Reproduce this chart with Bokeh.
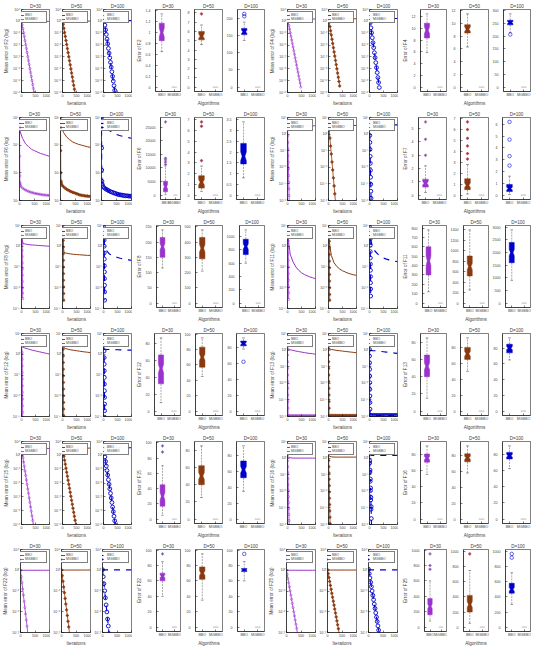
from bokeh.plotting import figure
from bokeh.layouts import row, column
from bokeh.models import Range1d, FixedTicker, CustomJSTickFormatter, Label
from bokeh.embed import file_html
from bokeh.resources import INLINE

FONT = "Liberation Sans"
DIMS = [30, 50, 100]
ALGS = ["BBO", "MGBBO"]
LEFT_FUNCS = ["F2", "F6", "F8", "F12", "F15", "F22"]
RIGHT_FUNCS = ["F4", "F7", "F11", "F13", "F16", "F25"]
X_TICKS = [0, 500, 1000]
COLORS = {30: "#9A32CD", 50: "#8B3A0F", 100: "#0000CD"}

# iteration grids (x values) of the recorded points
ITER_B = [0, 10, 25, 50, 100, 200, 300, 400, 500, 600, 700, 800, 900, 1000]
ITER_M25 = [0, 25, 50, 75, 100, 125, 150, 175, 200, 225, 250, 275, 300, 325, 350, 375, 400, 425, 450, 475, 500]
ITER_M5 = [0, 5, 10, 15, 20, 25, 30, 35, 40, 45, 50, 55, 60, 65, 70]
ITER_M2 = [0, 22, 24, 26, 28, 30, 32, 34, 36, 38, 40, 42, 44]
ITER_MS = [0, 5, 10, 15, 20, 30, 50, 100, 150, 200, 250, 300, 350, 400, 450, 500, 550, 600, 650, 700, 750, 800, 850, 900, 950, 1000]
ITER_MF = [0, 2, 4, 6, 8, 10, 12, 14, 16, 18, 20, 50, 100, 150, 200, 250, 300, 350, 400, 450, 500, 550, 600, 650, 700, 750, 800, 850, 900, 950, 1000]

# ---- convergence data: log10 of mean error, per D = 30, 50, 100 ----
F2_LIM = (-60, 10); F2_TICKS = [10, 0, -10, -20, -30, -40, -50, -60]
F2_BBO = [[1.0, 0.6, 0.4, 0.3, 0.2, 0.1, 0.1, 0.0, 0.0, 0.0, 0.0, 0.0, 0.0, 0.0],
          [1.2, 0.8, 0.6, 0.5, 0.4, 0.3, 0.3, 0.2, 0.2, 0.2, 0.2, 0.2, 0.2, 0.2],
          [2.0, 1.5, 1.2, 1.0, 0.9, 0.8, 0.8, 0.7, 0.7, 0.7, 0.7, 0.7, 0.7, 0.7]]
F2_MG = [[0.5, -2.8, -6.1, -9.5, -12.8, -16.2, -19.6, -22.9, -26.3, -29.7, -33.0, -36.4, -39.8, -43.1, -46.5, -49.9, -53.2, -56.6, -60.0],
         [1.0, -2.4, -5.8, -9.3, -12.7, -16.1, -19.5, -23.0, -26.4, -29.8, -33.2, -36.7, -40.1, -43.5, -46.9, -50.4, -53.8, -57.2, -60.6],
         [5.0, 0.8, -3.2, -7.1, -11.0, -15.0, -18.9, -22.8, -26.8, -30.7, -34.6, -38.6, -42.5, -46.4, -50.4, -54.3, -58.2, -62.0]]
F2_GRID = [ITER_M25, ITER_M25, ITER_M25]

F4_LIM = (-60, 10); F4_TICKS = [10, 0, -10, -20, -30, -40, -50, -60]
F4_BBO = [[2.6, 2.3, 2.2, 2.1, 2.0, 2.0, 2.0, 2.0, 2.0, 2.0, 2.0, 2.0, 2.0, 2.0],
          [2.8, 2.5, 2.4, 2.3, 2.2, 2.2, 2.2, 2.2, 2.2, 2.2, 2.2, 2.2, 2.2, 2.2],
          [3.0, 2.7, 2.6, 2.5, 2.4, 2.4, 2.4, 2.4, 2.4, 2.4, 2.4, 2.4, 2.4, 2.4]]
F4_MG = [[2.6, -0.5, -3.5, -6.5, -9.6, -12.6, -15.6, -18.7, -21.7, -24.7, -27.8, -30.8, -33.8, -36.9, -39.9, -42.9, -46.0, -49.0, -52.0, -55.5],
         [2.8, -0.8, -4.4, -7.9, -11.5, -15.1, -18.6, -22.2, -25.8, -29.3, -32.9, -36.5, -40.0, -43.6, -47.2, -50.7, -54.5],
         [3.0, -1.2, -5.4, -9.6, -13.8, -18.0, -22.2, -26.4, -30.6, -34.8, -39.0, -43.2, -47.4, -51.6, -55.8]]
F4_GRID = [ITER_M25, ITER_M25, ITER_M25]

F6_LIM = (2, 5); F6_TICKS = [2, 3, 4, 5]
F6_BBO = [[5.0, 4.7, 4.5, 4.4, 4.25, 4.05, 3.95, 3.85, 3.8, 3.75, 3.7, 3.67, 3.63, 3.6],
          [5.0, 4.85, 4.7, 4.6, 4.46, 4.3, 4.2, 4.12, 4.07, 4.03, 4.0, 3.97, 3.94, 3.92],
          [5.0, 4.95, 4.9, 4.85, 4.7, 4.58, 4.5, 4.44, 4.39, 4.35, 4.32, 4.29, 4.27, 4.25]]
F6_MG = [[5.0, 3.6, 2.9, 2.65, 2.6, 2.55, 2.5, 2.45, 2.41, 2.38, 2.35, 2.33, 2.31, 2.29, 2.28, 2.26, 2.25, 2.24, 2.23, 2.22, 2.21, 2.2, 2.2, 2.19, 2.19, 2.18],
         [5.0, 3.8, 3.0, 2.7, 2.66, 2.6, 2.55, 2.5, 2.45, 2.41, 2.38, 2.35, 2.32, 2.3, 2.28, 2.26, 2.24, 2.22, 2.2, 2.19, 2.18, 2.17, 2.16, 2.16, 2.15, 2.15],
         [5.0, 3.9, 3.1, 2.7, 2.6, 2.55, 2.5, 2.45, 2.41, 2.38, 2.35, 2.32, 2.3, 2.28, 2.26, 2.24, 2.22, 2.21, 2.2, 2.19, 2.18, 2.17, 2.17, 2.16, 2.16, 2.15]]
F6_GRID = [ITER_MS, ITER_MS, ITER_MS]

F7_LIM = (-20, 5); F7_TICKS = [5, 0, -5, -10, -15, -20]
F7_BBO = [[3.5, 3.0, 2.8, 2.7, 2.6, 2.5, 2.5, 2.5, 2.5, 2.5, 2.5, 2.5, 2.5, 2.5],
          [3.6, 3.1, 2.9, 2.8, 2.7, 2.6, 2.6, 2.6, 2.6, 2.6, 2.6, 2.6, 2.6, 2.6],
          [3.8, 3.3, 3.1, 3.0, 2.9, 2.8, 2.8, 2.8, 2.8, 2.8, 2.8, 2.8, 2.8, 2.8]]
F7_MG = [[3.5, 1.5, -0.5, -2.5, -4.5, -6.5, -8.5, -10.5, -12.5, -14.5, -16.5, -18.5, -20.5],
         [3.6, 1.2, -1.2, -3.6, -6.0, -8.4, -10.8, -13.2, -15.6, -18.0, -20.4],
         [3.8, 1.7, -0.4, -2.5, -4.6, -6.7, -8.8, -10.9, -13.0, -15.1, -17.2, -19.3, -21.4]]
F7_GRID = [ITER_M5, ITER_M25, ITER_M5]

F8_LIM = (-15, 5); F8_TICKS = [5, 0, -5, -10, -15]
F8_BBO = [[3.4, 2.5, 1.6, 0.8, 0.6, 0.45, 0.35, 0.3, 0.25, 0.2, 0.15, 0.1, 0.05, 0.0],
          [4.6, 2.5, 0.5, -1.4, -1.6, -1.75, -1.85, -1.95, -2.0, -2.05, -2.1, -2.15, -2.2, -2.2],
          [4.6, 2.5, 0.8, -0.2, -1.0, -1.8, -2.2, -2.5, -2.7, -2.9, -3.05, -3.2, -3.3, -3.4]]
F8_MG = [[3.4, 2.0, 0.5, -1.0, -2.5, -4.0, -5.5, -7.0, -8.5, -10.0, -11.3, -12.6],
         [4.6, 3.0, 1.4, -0.2, -1.8, -3.4, -5.0, -6.6, -8.2, -9.8, -11.4, -13.0],
         [4.6, 3.1, 1.5, 0.0, -1.6, -3.1, -4.7, -6.2, -7.8, -9.4, -11.0, -13.0]]
F8_GRID = [ITER_M2, ITER_M2, ITER_M2]

F11_LIM = (-15, 5); F11_TICKS = [5, 0, -5, -10, -15]
F11_BBO = [[4.6, 3.5, 2.2, 0.5, -2.0, -3.8, -5.0, -5.8, -6.4, -6.8, -7.1, -7.4, -7.6, -7.8],
           [4.4, 3.0, 1.6, 0.0, -2.2, -4.0, -4.9, -5.5, -5.9, -6.2, -6.5, -6.7, -6.9, -7.0],
           [4.6, 3.8, 2.8, 1.4, 0.0, -1.2, -1.9, -2.4, -2.8, -3.1, -3.3, -3.5, -3.6, -3.7]]
F11_MG = [[4.6, 3.0, 1.4, -0.2, -1.8, -3.4, -5.0, -6.6, -8.2, -9.8, -11.2, -12.8],
          [4.4, 2.8, 1.2, -0.4, -2.0, -3.6, -5.2, -6.8, -8.4, -10.0, -11.6, -13.0],
          [4.6, 3.2, 1.7, 0.2, -1.3, -2.8, -4.3, -5.8, -7.3, -8.8, -10.3, -12.0]]
F11_GRID = [ITER_M2, ITER_M2, ITER_M2]

F12_LIM = (-15, 5); F12_TICKS = [5, 0, -5, -10, -15]
F12_BBO = [[2.0, 1.9, 1.8, 1.7, 1.55, 1.35, 1.15, 0.95, 0.8, 0.65, 0.5, 0.35, 0.2, 0.05],
           [2.8, 2.2, 1.9, 1.6, 1.4, 1.2, 1.05, 0.95, 0.85, 0.75, 0.65, 0.55, 0.48, 0.4],
           [1.3, 1.25, 1.22, 1.2, 1.18, 1.15, 1.12, 1.1, 1.08, 1.06, 1.04, 1.02, 1.01, 1.0]]
F12_MG = [[2.0, 0.4, -1.2, -2.8, -4.4, -6.0, -7.6, -9.2, -10.8, -12.4, -14.0, -15.6],
          [2.8, 1.2, -0.4, -2.0, -3.6, -5.2, -6.8, -8.4, -10.0, -11.6, -13.2, -14.8, -16.4],
          [2.4, 0.8, -0.8, -2.4, -4.0, -5.6, -7.2, -8.8, -10.4, -12.0, -13.6, -15.2]]
F12_GRID = [ITER_M2, ITER_M2, ITER_M2]

F13_LIM = (-20, 5); F13_TICKS = [5, 0, -5, -10, -15, -20]
F13_BBO = [[0.3, 0.3, 0.25, 0.2, 0.1, -0.1, -0.3, -0.45, -0.6, -0.75, -0.9, -1.0, -1.1, -1.25],
           [0.3, 0.5, 0.4, 0.3, 0.2, 0.05, -0.1, -0.2, -0.3, -0.4, -0.5, -0.6, -0.7, -0.8],
           [0.0, 0.0, -0.05, -0.1, -0.15, -0.2, -0.3, -0.4, -0.5, -0.6, -0.7, -0.8, -0.9, -1.0]]
F13_MG = [[0.5, -1.5, -3.5, -5.5, -7.5, -9.5, -11.5, -13.5, -15.5, -17.5, -19.7, -19.7, -19.7, -19.7, -19.7, -19.7, -19.7, -19.7, -19.7, -19.7, -19.7, -19.7, -19.7, -19.7, -19.7, -19.7, -19.7, -19.7, -19.7, -19.7, -19.7],
          [0.5, -1.5, -3.5, -5.5, -7.5, -9.5, -11.5, -13.5, -15.5, -17.5, -19.7, -19.7, -19.7, -19.7, -19.7, -19.7, -19.7, -19.7, -19.7, -19.7, -19.7, -19.7, -19.7, -19.7, -19.7, -19.7, -19.7, -19.7, -19.7, -19.7, -19.7],
          [0.2, -1.8, -3.8, -5.8, -7.8, -9.8, -11.8, -13.8, -15.8, -17.8, -19.7, -19.7, -19.7, -19.7, -19.7, -19.7, -19.7, -19.7, -19.7, -19.7, -19.7, -19.7, -19.7, -19.7, -19.7, -19.7, -19.7, -19.7, -19.7, -19.7, -19.7]]
F13_GRID = [ITER_MF, ITER_MF, ITER_MF]

F15_LIM = (-50, 10); F15_TICKS = [10, 0, -10, -20, -30, -40, -50]
F15_BBO = [[6.0, 5.5, 5.3, 5.2, 5.1, 5.0, 5.0, 5.0, 5.0, 5.0, 5.0, 5.0, 5.0, 5.0],
           [6.2, 5.7, 5.5, 5.4, 5.3, 5.2, 5.2, 5.2, 5.2, 5.2, 5.2, 5.2, 5.2, 5.2],
           [6.5, 6.0, 5.8, 5.7, 5.6, 5.5, 5.5, 5.5, 5.5, 5.5, 5.5, 5.5, 5.5, 5.5]]
F15_MG = [[5.0, 1.8, -1.5, -4.8, -8.0, -11.3, -14.5, -17.8, -21.0, -24.3, -27.5, -30.8, -34.0, -37.3, -40.5, -43.8, -47.0, -50.3],
          [5.2, 2.3, -0.6, -3.5, -6.4, -9.3, -12.2, -15.1, -18.0, -20.9, -23.8, -26.7, -29.6, -32.5, -35.4, -38.3, -41.2, -44.1, -47.0, -50.2],
          [5.5, 2.2, -1.1, -4.4, -7.7, -11.0, -14.3, -17.6, -20.9, -24.2, -27.5, -30.8, -34.1, -37.4, -40.7, -44.0, -47.3, -50.6]]
F15_GRID = [ITER_M25, ITER_M25, ITER_M25]

F16_LIM = (-20, 5); F16_TICKS = [5, 0, -5, -10, -15, -20]
F16_BBO = [[1.0, 0.5, 0.3, 0.2, 0.1, 0.0, 0.0, 0.0, 0.0, 0.0, 0.0, 0.0, 0.0, 0.0],
           [1.2, 0.8, 0.6, 0.5, 0.4, 0.3, 0.3, 0.3, 0.3, 0.3, 0.3, 0.3, 0.3, 0.3],
           [1.5, 1.2, 1.0, 0.9, 0.8, 0.8, 0.8, 0.8, 0.8, 0.8, 0.8, 0.8, 0.8, 0.8]]
F16_MG = [[1.0, -0.8, -2.6, -4.4, -6.2, -8.0, -9.8, -11.6, -13.4, -15.2, -17.0, -18.8, -20.6],
          [1.2, -0.7, -2.6, -4.5, -6.4, -8.3, -10.2, -12.1, -14.0, -15.9, -17.8, -19.7, -21.6],
          [1.5, -1.5, -0.8, -4.2, -3.6, -7.0, -6.3, -9.8, -9.0, -12.6, -11.8, -15.4, -14.6, -18.2, -20.5]]
F16_GRID = [ITER_M5, ITER_M5, ITER_M5]

F22_LIM = (-30, 10); F22_TICKS = [10, 0, -10, -20, -30]
F22_BBO = [[0.5, 0.3, 0.2, 0.1, 0.0, 0.0, 0.0, 0.0, 0.0, 0.0, 0.0, 0.0, 0.0, 0.0],
           [0.6, 0.4, 0.3, 0.2, 0.1, 0.1, 0.1, 0.1, 0.1, 0.1, 0.1, 0.1, 0.1, 0.1],
           [0.8, 0.5, 0.4, 0.3, 0.2, 0.2, 0.2, 0.2, 0.2, 0.2, 0.2, 0.2, 0.2, 0.2]]
F22_MG = [[0.0, -3.0, -6.0, -9.0, -12.0, -15.0, -18.0, -21.0, -24.0, -27.0, -30.5],
          [0.2, -2.6, -5.3, -8.1, -10.8, -13.6, -16.3, -19.1, -21.8, -24.6, -27.3, -30.5],
          [0.3, -3.1, -6.5, -9.9, -13.3, -16.7, -20.1, -23.5, -26.9, -30.5]]
F22_GRID = [ITER_M25, ITER_M25, ITER_M25]

F25_LIM = (-30, 10); F25_TICKS = [10, 0, -10, -20, -30]
F25_BBO = [[0.5, 0.3, 0.2, 0.1, 0.0, 0.0, 0.0, 0.0, 0.0, 0.0, 0.0, 0.0, 0.0, 0.0],
           [0.6, 0.4, 0.3, 0.2, 0.1, 0.1, 0.1, 0.1, 0.1, 0.1, 0.1, 0.1, 0.1, 0.1],
           [0.8, 0.5, 0.4, 0.3, 0.2, 0.2, 0.2, 0.2, 0.2, 0.2, 0.2, 0.2, 0.2, 0.2]]
F25_MG = [[0.0, -2.0, -4.0, -6.0, -8.0, -10.0, -12.0, -14.0, -16.0, -18.0, -20.0, -22.0, -24.0, -26.0, -28.0, -30.5],
          [0.3, -1.6, -3.5, -5.4, -7.3, -9.2, -11.1, -13.0, -14.9, -16.8, -18.7, -20.6, -22.5, -24.4, -26.3, -28.2, -30.5],
          [0.5, -1.6, -3.7, -5.8, -7.9, -10.0, -12.1, -14.2, -16.3, -18.4, -20.5, -22.6, -24.7, -26.8, -28.9, -31.0]]
F25_GRID = [ITER_M25, ITER_M25, ITER_M25]

# ---- box plot data of BBO: [lower whisker, q1, median, q3, upper whisker] per D ----
MGBBO_ERR = [0.0, 0.0, 0.0]
F2_BOX = [[0.65, 0.85, 1.0, 1.17, 1.34], [4.6, 5.1, 5.5, 6.0, 6.7], [135, 152, 160, 170, 188]]
F2_NOTCH = [0.08, 0.25, 5]; F2_OUT = [[], [7.9], [205, 212]]; F2_EXP = [0, 0, 0]
F4_BOX = [[5.9, 8.4, 9.7, 10.9, 12.5], [6.3, 8.5, 9.1, 9.8, 11.5], [214, 244, 253, 262, 287]]
F4_NOTCH = [0.6, 0.35, 4]; F4_OUT = [[], [], [206]]; F4_EXP = [0, 0, 0]
F6_BOX = [[200, 1200, 3100, 5100, 10700], [0.35, 0.65, 1.2, 1.8, 2.7], [0.8, 1.45, 1.8, 2.4, 3.4]]
F6_NOTCH = [700, 0.25, 0.2]; F6_OUT = [[11300, 12200, 13000, 13600, 27000], [3.2, 6.4, 6.8], []]; F6_EXP = [0, 4, 5]
F7_BOX = [[0.2, 0.6, 0.9, 1.2, 2.2], [0.1, 0.5, 0.9, 1.5, 2.8], [0.05, 0.3, 0.55, 0.9, 1.6]]
F7_NOTCH = [0.15, 0.2, 0.12]; F7_OUT = [[3.0, 4.2, 5.5], [3.3, 3.8, 4.5, 5.2, 6.0, 6.7], [2.5, 3.3, 4.7, 6.2]]; F7_EXP = [0, 0, 0]
F8_BOX = [[115, 150, 185, 215, 240], [210, 290, 360, 430, 480], [600, 730, 850, 960, 1100]]
F8_NOTCH = [10, 25, 40]; F8_OUT = [[], [], []]; F8_EXP = [0, 0, 0]
F11_BOX = [[120, 300, 450, 600, 780], [250, 520, 700, 900, 1400], [900, 1600, 2000, 2400, 2900]]
F11_NOTCH = [50, 60, 120]; F11_OUT = [[], [], []]; F11_EXP = [0, 0, 0]
F12_BOX = [[10, 32, 50, 66, 86], [45, 57, 70, 83, 95], [78, 82, 85, 88, 92]]
F12_NOTCH = [5, 4, 1.5]; F12_OUT = [[], [], [62]]; F12_EXP = [0, 0, 0]
F13_BOX = [[15, 40, 52, 65, 85], [50, 65, 72, 80, 92], [65, 74, 80, 85, 93]]
F13_NOTCH = [4, 3, 2]; F13_OUT = [[], [], []]; F13_EXP = [0, 0, 0]
F15_BOX = [[5, 17, 30, 45, 70], [25, 40, 50, 62, 85], [35, 52, 62, 73, 92]]
F15_NOTCH = [5, 4, 4]; F15_OUT = [[88, 96], [], []]; F15_EXP = [0, 0, 0]
F16_BOX = [[55, 70, 75, 80, 90], [58, 72, 77, 82, 92], [62, 74, 78, 82, 90]]
F16_NOTCH = [2, 2, 1.5]; F16_OUT = [[], [], []]; F16_EXP = [0, 0, 0]
F22_BOX = [[40, 60, 66, 70, 85], [35, 62, 70, 78, 95], [60, 72, 74, 76, 85]]
F22_NOTCH = [2, 3, 1]; F22_OUT = [[95], [], [95]]; F22_EXP = [0, 0, 0]
F25_BOX = [[80, 160, 270, 370, 600], [50, 200, 300, 420, 750], [300, 450, 500, 580, 720]]
F25_NOTCH = [30, 40, 25]; F25_OUT = [[750, 800, 950], [970], [920, 970]]; F25_EXP = [0, 0, 0]

CONV = {
    "F2": (F2_LIM, F2_TICKS, F2_BBO, F2_MG, F2_GRID), "F4": (F4_LIM, F4_TICKS, F4_BBO, F4_MG, F4_GRID),
    "F6": (F6_LIM, F6_TICKS, F6_BBO, F6_MG, F6_GRID), "F7": (F7_LIM, F7_TICKS, F7_BBO, F7_MG, F7_GRID),
    "F8": (F8_LIM, F8_TICKS, F8_BBO, F8_MG, F8_GRID), "F11": (F11_LIM, F11_TICKS, F11_BBO, F11_MG, F11_GRID),
    "F12": (F12_LIM, F12_TICKS, F12_BBO, F12_MG, F12_GRID), "F13": (F13_LIM, F13_TICKS, F13_BBO, F13_MG, F13_GRID),
    "F15": (F15_LIM, F15_TICKS, F15_BBO, F15_MG, F15_GRID), "F16": (F16_LIM, F16_TICKS, F16_BBO, F16_MG, F16_GRID),
    "F22": (F22_LIM, F22_TICKS, F22_BBO, F22_MG, F22_GRID), "F25": (F25_LIM, F25_TICKS, F25_BBO, F25_MG, F25_GRID),
}
BOX = {
    "F2": (F2_BOX, F2_NOTCH, F2_OUT, F2_EXP), "F4": (F4_BOX, F4_NOTCH, F4_OUT, F4_EXP),
    "F6": (F6_BOX, F6_NOTCH, F6_OUT, F6_EXP), "F7": (F7_BOX, F7_NOTCH, F7_OUT, F7_EXP),
    "F8": (F8_BOX, F8_NOTCH, F8_OUT, F8_EXP), "F11": (F11_BOX, F11_NOTCH, F11_OUT, F11_EXP),
    "F12": (F12_BOX, F12_NOTCH, F12_OUT, F12_EXP), "F13": (F13_BOX, F13_NOTCH, F13_OUT, F13_EXP),
    "F15": (F15_BOX, F15_NOTCH, F15_OUT, F15_EXP), "F16": (F16_BOX, F16_NOTCH, F16_OUT, F16_EXP),
    "F22": (F22_BOX, F22_NOTCH, F22_OUT, F22_EXP), "F25": (F25_BOX, F25_NOTCH, F25_OUT, F25_EXP),
}

SUP = {"-": "\u207b", "0": "\u2070", "1": "\u00b9", "2": "\u00b2", "3": "\u00b3", "4": "\u2074",
       "5": "\u2075", "6": "\u2076", "7": "\u2077", "8": "\u2078", "9": "\u2079"}
LOG_FMT = CustomJSTickFormatter(code="""
const s = {"-": "\u207b", "0": "\u2070", "1": "\u00b9", "2": "\u00b2", "3": "\u00b3", "4": "\u2074",
           "5": "\u2075", "6": "\u2076", "7": "\u2077", "8": "\u2078", "9": "\u2079"};
const e = Math.round(Math.log10(tick));
return "10" + String(e).split("").map(c => s[c]).join("");
""")

ROW_H = 108


def style(p):
    for ax in (p.xaxis[0], p.yaxis[0]):
        ax.major_label_text_font = FONT
        ax.major_label_text_font_size = "3.6px"
        ax.axis_label_text_font = FONT
        ax.axis_label_text_font_size = "4.6px"
        ax.axis_label_text_font_style = "normal"
        ax.axis_line_width = 0.5
        ax.major_tick_line_width = 0.5
        ax.major_tick_in = 2
        ax.major_tick_out = 0
        ax.minor_tick_line_color = None
        ax.major_label_standoff = 1
        ax.axis_label_standoff = 1
    p.xgrid.visible = False
    p.ygrid.visible = False
    p.outline_line_color = "black"
    p.outline_line_width = 0.5
    p.title.text_font = FONT
    p.title.text_font_size = "4.6px"
    p.title.text_font_style = "normal"
    p.title.align = "center"
    p.title.standoff = 1
    p.title.offset = 0


def conv_panel(fn, k, pos):
    lim, ticks, bbo_all, mg_all, grids = CONV[fn]
    d = DIMS[k]
    c = COLORS[d]
    first = pos == 0
    p = figure(width=50 if first else 41, height=ROW_H, output_backend="svg", toolbar_location=None,
               y_axis_type="log", x_range=Range1d(0, 1000),
               y_range=Range1d(10.0 ** lim[0], 10.0 ** lim[1]), title=f"D={d}",
               min_border_left=19 if first else 10, min_border_right=1,
               min_border_top=9, min_border_bottom=12)
    dash = "dashed" if d == 100 else "solid"
    bbo = bbo_all[k]
    mg = mg_all[k]
    p.line(ITER_B[:len(bbo)], [10.0 ** v for v in bbo], line_color=c, line_width=1.0 if d != 100 else 1.2,
           line_dash=dash, legend_label=ALGS[0])
    xs = grids[k][:len(mg)]
    ys = [10.0 ** v for v in mg]
    p.line(xs, ys, line_color=c, line_width=0.8 if d != 100 else 1.1, line_dash=dash, legend_label=ALGS[1])
    if d == 30:
        p.scatter(xs, ys, marker="circle", size=2.2, line_color=c, fill_color=None, line_width=0.5, legend_label=ALGS[1])
    elif d == 50:
        p.scatter(xs, ys, marker="plus", size=2.6, line_color=c, fill_color=c, line_width=0.5, legend_label=ALGS[1])
    else:
        p.scatter(xs, ys, marker="circle", size=3.8, line_color=c, fill_color=None, line_width=0.9, legend_label=ALGS[1])
    style(p)
    p.xaxis.ticker = FixedTicker(ticks=X_TICKS)
    p.yaxis.ticker = FixedTicker(ticks=[10.0 ** t for t in ticks])
    p.yaxis.formatter = LOG_FMT
    if first:
        p.yaxis.axis_label = f"Mean error of {fn} (log)"
    if pos == 1:
        p.xaxis.axis_label = "Iterations"
    lg = p.legend[0]
    lg.location = "top_right"
    lg.label_text_font = FONT
    lg.label_text_font_size = "3.4px"
    lg.glyph_height = 4
    lg.glyph_width = 9
    lg.label_height = 4
    lg.label_standoff = 1
    lg.padding = 1
    lg.spacing = 0
    lg.margin = 2
    lg.border_line_color = "black"
    lg.border_line_width = 0.4
    return p


def box_panel(fn, k, pos):
    stats, notches, outs, exps = BOX[fn]
    d = DIMS[k]
    c = COLORS[d]
    first = pos == 0
    lo, q1, med, q3, hi = stats[k]
    nh = notches[k]
    outl = outs[k]
    mgv = MGBBO_ERR[k]
    allv = [lo, hi, mgv] + outl
    span = max(allv) - min(allv)
    y0 = min(allv) - 0.06 * span
    y1 = max(allv) + 0.06 * span
    p = figure(width=48 if first else 42, height=ROW_H, output_backend="svg", toolbar_location=None,
               x_range=Range1d(0.5, 2.5), y_range=Range1d(y0, y1), title=f"D={d}",
               min_border_left=19 if first else 13, min_border_right=1,
               min_border_top=9, min_border_bottom=12)
    xb = ALGS.index("BBO") + 1
    xm = ALGS.index("MGBBO") + 1
    w = 0.2
    px = [xb - w, xb - w, xb - w / 2, xb - w, xb - w, xb + w, xb + w, xb + w / 2, xb + w, xb + w]
    py = [q1, med - nh, med, med + nh, q3, q3, med + nh, med, med - nh, q1]
    # whiskers
    p.segment(x0=[xb, xb], y0=[q3, q1], x1=[xb, xb], y1=[hi, lo], line_color="#555555",
              line_width=0.5, line_dash="2 1")
    p.segment(x0=[xb - w / 2, xb - w / 2], y0=[hi, lo], x1=[xb + w / 2, xb + w / 2], y1=[hi, lo],
              line_color="#333333", line_width=0.5)
    p.patch(px, py, fill_color=c, line_color=c, line_width=0.5)
    p.segment(x0=[xb - w / 2], y0=[med], x1=[xb + w / 2], y1=[med], line_color=c, line_width=0.6)
    # MGBBO: collapsed box near zero
    p.segment(x0=[xm - w], y0=[mgv], x1=[xm + w], y1=[mgv], line_color="#888888", line_width=0.6)
    if outl:
        if d == 30:
            p.scatter([xb] * len(outl), outl, marker="plus", size=2.5, line_color="#C060C0", line_width=0.5)
        elif d == 50:
            p.scatter([xb] * len(outl), outl, marker="plus", size=2.5, line_color="#CC2222", line_width=0.5)
        else:
            p.scatter([xb] * len(outl), outl, marker="circle", size=3.5, line_color=c, fill_color=None, line_width=0.6)
    style(p)
    p.xaxis.ticker = FixedTicker(ticks=[xb, xm])
    p.xaxis.major_label_overrides = {xb: ALGS[0], xm: ALGS[1]}
    p.yaxis.ticker.desired_num_ticks = 7
    if exps[k]:
        p.add_layout(Label(x=0.5, y=y1, text="\u00d710" + "".join(SUP[ch] for ch in str(exps[k])),
                           text_font=FONT, text_font_size="3.6px", text_baseline="bottom",
                           text_align="left", x_offset=-3, y_offset=1))
    if first:
        p.yaxis.axis_label = f"Error of {fn}"
    if pos == 1:
        p.xaxis.axis_label = "Algorithms"
    return p


rows = []
for r in range(6):
    fl, fr = LEFT_FUNCS[r], RIGHT_FUNCS[r]
    g1 = row([conv_panel(fl, k, k) for k in range(3)], spacing=0)
    g2 = row([box_panel(fl, k, k) for k in range(3)], spacing=0)
    g3 = row([conv_panel(fr, k, k) for k in range(3)], spacing=0)
    g4 = row([box_panel(fr, k, k) for k in range(3)], spacing=0)
    rows.append(row([g1, g2, g3, g4], spacing=1))
layout = column(rows, spacing=0)

open("out.html", "w").write(file_html(layout, INLINE))
